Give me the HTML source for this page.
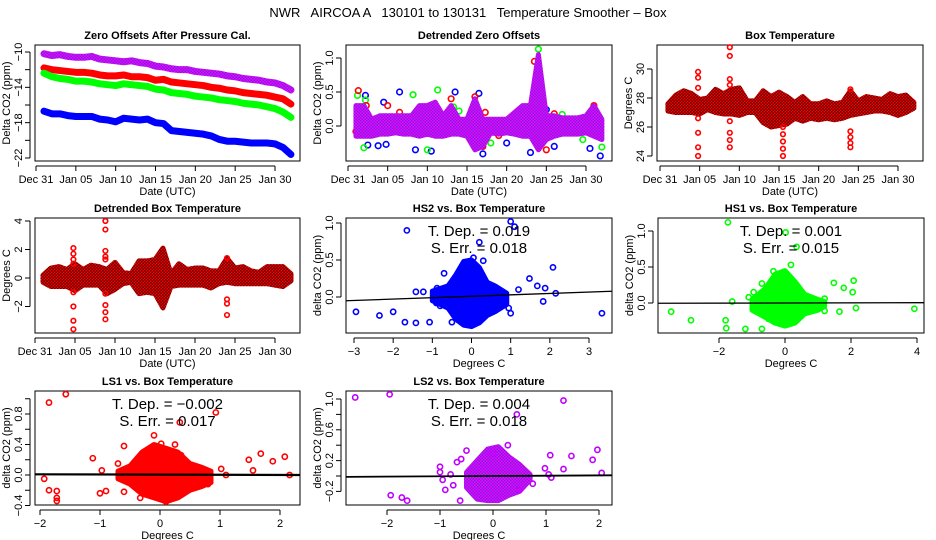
<!DOCTYPE html>
<html><head><meta charset="utf-8"><style>
html,body{margin:0;padding:0;background:#fff}
svg{display:block;font-family:"Liberation Sans",sans-serif}
</style></head><body>
<svg id="c" width="936" height="540" viewBox="0 0 936 540">
<defs>
<pattern id="pPur" width="3" height="3" patternUnits="userSpaceOnUse"><rect width="3" height="3" fill="#ff00ff"/><rect width="1.5" height="1.5" fill="#7020e0"/><rect x="1.5" y="1.5" width="1.5" height="1.5" fill="#7020e0"/></pattern>
<pattern id="pRed" width="3" height="3" patternUnits="userSpaceOnUse"><rect width="3" height="3" fill="#ff0000"/><rect width="1.5" height="1.5" fill="#500"/><rect x="1.5" y="1.5" width="1.5" height="1.5" fill="#500"/></pattern>
</defs>
<text x="468" y="17" text-anchor="middle" font-size="13" style="white-space:pre">NWR   AIRCOA A   130101 to 130131   Temperature Smoother – Box</text>
</svg>
<script>
// ---------- data ----------
const days = [1,2,3,4,5,6,7,8,9,10,11,12,13,14,15,16,17,18,19,20,21,22,23,24,25,26,27,28,29,30,31,32];
const dateTicks = [0,5,10,15,20,25,30];
const dateLabels = ["Dec 31","Jan 05","Jan 10","Jan 15","Jan 20","Jan 25","Jan 30"];
// panel 1 zero offsets
const zoPurple = [-10.2,-10.4,-10.3,-10.5,-10.6,-10.6,-10.5,-10.8,-10.9,-11.0,-11.1,-11.0,-11.2,-11.3,-11.6,-11.7,-11.9,-12.0,-12.0,-12.2,-12.3,-12.4,-12.5,-12.7,-12.8,-13.0,-13.1,-13.2,-13.4,-13.5,-13.8,-14.3];
const zoRed = [-11.8,-12.0,-12.1,-12.2,-12.3,-12.3,-12.4,-12.6,-12.7,-12.7,-12.6,-12.8,-12.8,-12.9,-13.2,-13.1,-13.4,-13.5,-13.6,-13.7,-13.8,-14.0,-14.1,-14.3,-14.4,-14.6,-14.7,-14.8,-14.9,-15.1,-15.3,-15.9];
const zoGreen = [-12.4,-12.8,-13.0,-13.1,-13.3,-13.3,-13.4,-13.6,-13.7,-13.8,-13.6,-13.7,-13.8,-13.9,-14.2,-14.3,-14.6,-14.7,-14.8,-15.0,-15.1,-15.2,-15.4,-15.5,-15.6,-15.8,-15.9,-16.0,-16.2,-16.4,-16.8,-17.4];
const zoBlue = [-16.7,-17.0,-17.0,-17.2,-17.3,-17.3,-17.3,-17.6,-17.7,-17.9,-17.5,-17.6,-17.7,-17.6,-18.0,-18.1,-18.9,-19.0,-19.1,-19.2,-19.3,-19.5,-19.9,-20.1,-20.1,-20.2,-20.3,-20.3,-20.3,-20.4,-20.8,-21.6];
// panel 2 detrended zero offsets
const dzLo = [-0.15,-0.15,-0.15,-0.12,-0.12,-0.1,-0.12,-0.12,-0.15,-0.12,-0.15,-0.15,-0.12,-0.12,-0.15,-0.35,-0.3,-0.1,-0.12,-0.1,-0.12,-0.15,-0.15,-0.35,-0.2,-0.15,-0.12,-0.12,-0.12,-0.1,-0.15,-0.2];
const dzHi = [0.3,0.3,0.1,0.15,0.15,0.15,0.15,0.15,0.3,0.3,0.35,0.15,0.3,0.1,0.1,0.4,0.1,0.1,0.1,0.1,0.2,0.3,0.3,1.05,0.15,0.15,0.12,0.12,0.12,0.15,0.3,0.1];
const dzBlueOut = [[1.3,0.07],[2.2,0.45],[2.5,-0.28],[3.8,-0.29],[4.8,-0.27],[6.5,0.5],[8.5,-0.35],[10.5,-0.37],[13.5,0.5],[16.5,0.48],[17,-0.41],[24,0.9],[23,-0.39],[25,0.24],[30.5,-0.33],[31.8,-0.44],[20,-0.25],[26,-0.3],[4.5,0.35],[12,0.1]];
const dzGreenOut = [[1.2,0.45],[2,-0.32],[2.2,0.38],[8.2,0.46],[10,-0.35],[11.3,0.53],[14,0.22],[18,-0.25],[24,1.13],[24.3,0.46],[27,0.17],[29.6,-0.2],[32,-0.31],[13.3,0.28]];
const dzRedOut = [[1.3,0.52],[1,-0.08],[2.3,0.3],[5,0.3],[6.5,0.2],[13,0.4],[16,0.43],[17.3,0.2],[24,0.69],[23.5,0.95],[25,-0.35],[19,-0.14],[31,0.3],[17,-0.3],[26,0.18]];
// panel 3 box temperature
const btLo = [27.1,27.0,27.0,27.0,26.9,27.2,27.0,26.9,26.9,26.8,27.0,27.0,26.3,26.0,26.1,26.2,26.6,26.4,26.6,26.5,26.6,26.5,26.6,26.8,26.9,27.0,27.1,27.1,27.0,26.8,27.0,27.3];
const btHi = [27.6,28.2,28.5,28.3,27.9,28.0,28.6,28.3,28.6,28.7,27.8,27.8,28.5,28.1,28.4,28.1,27.7,28.1,27.6,27.6,27.8,27.6,27.7,28.5,27.8,28.1,28.0,27.9,28.3,28.1,28.2,27.7];
const btOutDay = [4.8,4.8,4.8,4.8,4.8,4.8,4.8,8.8,8.8,8.8,8.8,8.8,8.8,8.8,8.8,15.5,15.5,15.5,15.5,15.5,24,24,24,24,24];
const btOutVal = [29.8,29.4,28.7,26.6,25.6,24.6,24.0,31.5,30.9,29.3,28.9,26.4,25.6,25.1,24.6,26.0,25.5,25.0,24.5,24.0,28.6,25.7,25.3,24.9,24.6];
// panel 4 detrended box temperature
const dtLo = [-0.3,-0.6,-0.6,-0.6,-0.9,-0.5,-0.5,-0.5,-1.1,-0.8,-0.4,-0.3,-1.1,-1.0,-1.1,-2.1,-0.6,-0.5,-0.5,-0.5,-0.5,-0.7,-0.4,-0.3,-0.4,-0.4,-0.4,-0.4,-0.4,-0.5,-0.6,-0.2];
const dtHi = [0.2,0.7,0.8,0.6,1.0,0.6,0.9,0.8,0.6,1.1,0.4,0.3,1.2,1.2,1.3,2.1,0.3,1.0,0.6,0.7,0.7,0.5,0.5,1.4,0.7,0.8,0.5,0.4,0.8,0.8,0.8,0.3];
const dtOutDay = [4.8,4.8,4.8,4.8,4.8,4.8,4.8,4.8,8.8,8.8,8.8,8.8,8.8,8.8,8.8,8.8,8.8,24,24,24,24];
const dtOutVal = [2.1,1.7,1.3,1.0,-1.0,-2.0,-3.0,-3.6,4.0,3.4,1.9,1.5,1.3,-1.1,-1.9,-2.4,-2.9,1.4,-1.5,-1.8,-2.6];
// scatter panels
const hs2BinX = [-1.0,-0.6,-0.4,-0.2,0,0.2,0.4,0.6,0.9];
const hs2Lo = [-0.05,-0.15,-0.3,-0.38,-0.4,-0.35,-0.25,-0.2,-0.1];
const hs2Hi = [0.08,0.15,0.3,0.48,0.5,0.4,0.2,0.15,0.05];
const hs2Out = [[-2.95,-0.2],[-2.35,-0.25],[-2.0,-0.2],[-1.7,-0.34],[-1.42,-0.35],[-1.07,-0.34],[-1.65,0.9],[-1.42,0.07],[-1.23,0.07],[-0.88,0.12],[-0.7,0.32],[-0.5,-0.34],[0.05,0.53],[0.3,0.49],[0.2,0.74],[1.0,1.02],[1.1,0.95],[1.48,0.25],[1.68,0.15],[1.88,0.12],[2.08,0.4],[2.15,0.05],[1.83,-0.06],[3.33,-0.22],[1.0,-0.22],[1.2,0.1],[0.95,-0.15],[-0.9,-0.08],[-0.8,-0.12]];
const hs2Fit = [0.01,0.019];
const hs1BinX = [-1.0,-0.6,-0.3,0,0.3,0.6,1.0,1.2];
const hs1Lo = [-0.1,-0.2,-0.28,-0.32,-0.28,-0.15,-0.1,-0.05];
const hs1Hi = [0.05,0.2,0.4,0.45,0.3,0.12,0.05,0.02];
const hs1Out = [[-3.45,-0.12],[-2.85,-0.24],[-1.8,-0.24],[-1.78,-0.35],[-1.6,0.02],[-1.73,1.12],[-1.2,-0.36],[-0.7,-0.36],[-1.1,0.08],[-0.95,0.15],[-0.7,0.27],[0.02,0.98],[0.35,0.78],[0.18,0.53],[1.48,0.28],[1.78,0.21],[2.08,0.31],[2.05,0.15],[2.15,-0.07],[1.65,-0.12],[1.2,-0.11],[3.92,-0.08],[1.2,0.06],[-0.35,0.44],[-0.5,-0.22]];
const hs1Fit = [0.0,0.001];
const ls1BinX = [-0.7,-0.5,-0.3,-0.1,0.1,0.3,0.5,0.7,0.85];
const ls1Lo = [-0.05,-0.12,-0.25,-0.3,-0.35,-0.3,-0.2,-0.15,-0.1];
const ls1Hi = [0.05,0.12,0.3,0.4,0.35,0.3,0.15,0.1,0.05];
const ls1Out = [[-1.93,-0.05],[-1.85,0.95],[-1.57,1.06],[-1.85,-0.2],[-1.72,-0.21],[-1.72,-0.3],[-1.72,-0.34],[-1.12,0.22],[-1.0,-0.24],[-0.97,0.06],[-0.9,-0.21],[-0.6,0.38],[-0.6,-0.22],[-0.7,0.15],[-0.1,0.52],[0.02,0.41],[0.33,0.69],[0.93,0.82],[0.1,-0.35],[-0.33,-0.3],[1.02,0.08],[1.1,0.0],[1.48,0.2],[1.55,0.06],[1.68,0.28],[1.88,0.18],[2.08,0.24],[2.16,0.0],[0.25,0.4],[0.35,0.26],[0.5,-0.18],[0.8,-0.12]];
const ls1Fit = [0.005,-0.002];
const ls2BinX = [-0.5,-0.3,-0.1,0.1,0.3,0.5,0.7];
const ls2Lo = [-0.15,-0.3,-0.32,-0.32,-0.25,-0.2,-0.05];
const ls2Hi = [0.05,0.2,0.35,0.38,0.25,0.15,0.02];
const ls2Out = [[-2.6,1.02],[-1.95,1.06],[-1.93,-0.25],[-1.72,-0.28],[-1.62,-0.32],[-1.0,0.12],[-1.0,0.05],[-0.9,-0.18],[-0.95,-0.05],[-0.8,0.02],[-0.75,-0.12],[-0.68,0.18],[-0.6,0.22],[-0.5,0.33],[-0.62,-0.32],[0.0,0.29],[0.28,0.4],[0.45,0.8],[1.33,0.98],[1.08,0.27],[1.48,0.26],[1.33,0.09],[0.98,0.1],[1.05,0.02],[1.1,-0.02],[1.88,0.21],[1.97,0.34],[2.05,0.04],[0.5,-0.18],[0.75,-0.1]];
const ls2Fit = [0.0,0.004];

// ---------- drawing ----------
const svg = document.getElementById('c');
const NS = 'http://www.w3.org/2000/svg';
function mk(tag, attrs, parent){const e=document.createElementNS(NS,tag);for(const k in attrs)e.setAttribute(k,attrs[k]);(parent||svg).appendChild(e);return e;}
function lin(d0,d1,p0,p1){return v=>p0+(v-d0)*(p1-p0)/(d1-d0);}

function panel(o){
  const g=mk('g',{});
  
  
  const box=mk('rect',{x:o.L,y:o.T,width:o.R-o.L,height:o.B-o.T,fill:'none',stroke:'#000','stroke-width':1},g);
  
  
  const t=mk('text',{x:(o.L+o.R)/2,y:o.T-6,'text-anchor':'middle','font-size':11,'font-weight':'bold'},g);
  t.textContent=o.title;
  
  
  const ax=o.B+5;
  mk('line',{x1:o.sx(o.xt[0]),x2:o.sx(o.xt[o.xt.length-1]),y1:ax,y2:ax,stroke:'#000'},g);
  o.xt.forEach((v,i)=>{const x=o.sx(v);mk('line',{x1:x,x2:x,y1:ax,y2:ax+5,stroke:'#000'},g);
    const l=mk('text',{x:x,y:ax+17,'text-anchor':'middle','font-size':11},g);l.textContent=o.xl[i];
    
    });
  const xt=mk('text',{x:(o.L+o.R)/2,y:ax+29,'text-anchor':'middle','font-size':11},g);xt.textContent=o.xtitle;
  
  
  const ay=o.L-5;
  mk('line',{x1:ay,x2:ay,y1:o.sy(o.yt[0]),y2:o.sy(o.yt[o.yt.length-1]),stroke:'#000'},g);
  o.yt.forEach((v,i)=>{const y=o.sy(v);mk('line',{x1:ay-5,x2:ay,y1:y,y2:y,stroke:'#000'},g);
    if(o.yl[i]!==''){const l=mk('text',{x:0,y:0,'text-anchor':'middle','font-size':11,transform:`translate(${ay-8},${y}) rotate(-90)`},g);l.textContent=o.yl[i];
    
    }});
  const yt=mk('text',{x:0,y:0,'text-anchor':'middle','font-size':11,transform:`translate(${o.L-25},${(o.T+o.B)/2}) rotate(-90)`},g);yt.textContent=o.ytitle;
  
  
  return g;
}
function pts(g,sx,sy,arr,color,r,name){arr.forEach(p=>{const c=mk('circle',{cx:sx(p[0]),cy:sy(p[1]),r:r||2.6,fill:'none',stroke:color,'stroke-width':1.6},g);
  
  });}
function band(g,sx,sy,xs,lo,hi,fill,name){
  let d='M'+xs.map((x,i)=>sx(x)+','+sy(hi[i])).join('L');
  for(let i=xs.length-1;i>=0;i--)d+='L'+sx(xs[i])+','+sy(lo[i]);
  const p=mk('path',{d:d+'Z',fill:fill,stroke:fill,'stroke-width':5,'stroke-linejoin':'round'},g);
  
  
}
function series(g,sx,sy,vals,color,name){
  const p=mk('polyline',{points:days.map((d,i)=>sx(d)+','+sy(vals[i])).join(' '),fill:'none',stroke:color,'stroke-width':7,'stroke-linejoin':'round','stroke-linecap':'round'},g);
  
  
}
function fit(g,o,f,w){const x0=o.sx.inv(o.L),x1=o.sx.inv(o.R);
  const l=mk('line',{x1:o.L,x2:o.R,y1:o.sy(f[0]+f[1]*x0),y2:o.sy(f[0]+f[1]*x1),stroke:'#000','stroke-width':w||1.3},g);
  
  }
function stats(g,o,tdep,serr){const cx=(o.L+o.R)/2;
  const a=mk('text',{x:cx,y:o.T+18,'text-anchor':'middle','font-size':15},g);a.textContent='T. Dep. =  '+tdep;
  
  
  const b=mk('text',{x:cx,y:o.T+35,'text-anchor':'middle','font-size':15},g);b.textContent='S. Err. =  '+serr;
  
  }
function scale(d0,d1,p0,p1){const f=lin(d0,d1,p0,p1);f.inv=lin(p0,p1,d0,d1);return f;}

let o={name:'zero-offsets-panel',L:35,R:300,T:45,B:161,title:'Zero Offsets After Pressure Cal.',xtitle:'Date (UTC)',ytitle:'Delta CO2 (ppm)',
 sx:scale(0,30,36,275),sy:scale(-10,-22,52,158),xt:dateTicks,xl:dateLabels,yt:[-10,-12,-14,-16,-18,-20,-22],yl:['−10','','−14','','−18','','−22']};
let g=panel(o);
series(g,o.sx,o.sy,zoPurple,'url(#pPur)','purple-series');
series(g,o.sx,o.sy,zoRed,'#ff0000','red-series');
series(g,o.sx,o.sy,zoGreen,'#00ff00','green-series');
series(g,o.sx,o.sy,zoBlue,'#0000ff','blue-series');

o={name:'detrended-zero-offsets-panel',L:346,R:612,T:45,B:161,title:'Detrended Zero Offsets',xtitle:'Date (UTC)',ytitle:'Delta CO2 (ppm)',
 sx:scale(0,30,348,586),sy:scale(0,1,126,58),xt:dateTicks,xl:dateLabels,yt:[0,0.5,1],yl:['0.0','0.5','1.0']};
g=panel(o);
pts(g,o.sx,o.sy,dzBlueOut,'#0000ff',2.8,'blue-point');
pts(g,o.sx,o.sy,dzGreenOut,'#00ff00',2.8,'green-point');
pts(g,o.sx,o.sy,dzRedOut,'#ff0000',2.8,'red-point');
band(g,o.sx,o.sy,days,dzLo,dzHi,'url(#pPur)','detrended-band');

o={name:'box-temperature-panel',L:657,R:923,T:45,B:161,title:'Box Temperature',xtitle:'Date (UTC)',ytitle:'Degrees C',
 sx:scale(0,30,660,898),sy:scale(24,30,156,69),xt:dateTicks,xl:dateLabels,yt:[24,26,28,30],yl:['24','26','28','30']};
g=panel(o);
band(g,o.sx,o.sy,days,btLo,btHi,'url(#pRed)','temperature-band');
pts(g,o.sx,o.sy,btOutDay.map((d,i)=>[d,btOutVal[i]]),'#ff0000',2.3,'temperature-outlier');

o={name:'detrended-box-temperature-panel',L:35,R:300,T:218,B:333,title:'Detrended Box Temperature',xtitle:'Date (UTC)',ytitle:'Degrees C',
 sx:scale(0,30,35,275),sy:scale(0,4,278,221),xt:dateTicks,xl:dateLabels,yt:[-2,0,2,4],yl:['−2','0','2','4']};
g=panel(o);
band(g,o.sx,o.sy,days,dtLo,dtHi,'url(#pRed)','detrended-temperature-band');
pts(g,o.sx,o.sy,dtOutDay.map((d,i)=>[d,dtOutVal[i]]),'#ff0000',2.3,'detrended-temperature-outlier');

o={name:'hs2-vs-box-temperature-panel',L:346,R:612,T:218,B:333,title:'HS2 vs. Box Temperature',xtitle:'Degrees C',ytitle:'delta CO2 (ppm)',
 sx:scale(-3,3,354,589),sy:scale(0,1,297,223),xt:[-3,-2,-1,0,1,2,3],xl:['−3','−2','−1','0','1','2','3'],yt:[0,0.5,1],yl:['0.0','0.5','1.0']};
g=panel(o);
band(g,o.sx,o.sy,hs2BinX,hs2Lo,hs2Hi,'#0000ff','hs2-cloud');
pts(g,o.sx,o.sy,hs2Out,'#0000ff',2.6,'hs2-point');
fit(g,o,hs2Fit);stats(g,o,'0.019','0.018');

o={name:'hs1-vs-box-temperature-panel',L:658,R:924,T:218,B:333,title:'HS1 vs. Box Temperature',xtitle:'Degrees C',ytitle:'delta CO2 (ppm)',
 sx:scale(0,4,785,917),sy:scale(0,1,303,231),xt:[-2,0,2,4],xl:['−2','0','2','4'],yt:[0,0.5,1],yl:['0.0','0.5','1.0']};
g=panel(o);
band(g,o.sx,o.sy,hs1BinX,hs1Lo,hs1Hi,'#00ff00','hs1-cloud');
pts(g,o.sx,o.sy,hs1Out,'#00ff00',2.6,'hs1-point');
fit(g,o,hs1Fit);stats(g,o,'0.001','0.015');

o={name:'ls1-vs-box-temperature-panel',L:35,R:300,T:391,B:505,title:'LS1 vs. Box Temperature',xtitle:'Degrees C',ytitle:'delta CO2 (ppm)',
 sx:scale(0,2,160,280),sy:scale(0,0.8,475,414),xt:[-2,-1,0,1,2],xl:['−2','−1','0','1','2'],yt:[-0.4,-0.2,0,0.2,0.4,0.6,0.8,1.0],yl:['−0.4','','0.0','','0.4','','0.8','']};
g=panel(o);
band(g,o.sx,o.sy,ls1BinX,ls1Lo,ls1Hi,'#ff0000','ls1-cloud');
pts(g,o.sx,o.sy,ls1Out,'#ff0000',2.6,'ls1-point');
fit(g,o,ls1Fit,2.2);stats(g,o,'−0.002','0.017');

o={name:'ls2-vs-box-temperature-panel',L:346,R:612,T:391,B:505,title:'LS2 vs. Box Temperature',xtitle:'Degrees C',ytitle:'delta CO2 (ppm)',
 sx:scale(0,2,493,599),sy:scale(0,1,476,399),xt:[-2,-1,0,1,2],xl:['−2','−1','0','1','2'],yt:[-0.2,0,0.2,0.4,0.6,0.8,1.0],yl:['−0.2','','0.2','','0.6','','1.0']};
g=panel(o);
band(g,o.sx,o.sy,ls2BinX,ls2Lo,ls2Hi,'url(#pPur)','ls2-cloud');
pts(g,o.sx,o.sy,ls2Out,'#c000ff',2.6,'ls2-point');
fit(g,o,ls2Fit,1.8);stats(g,o,'0.004','0.018');
</script>
</body></html>
